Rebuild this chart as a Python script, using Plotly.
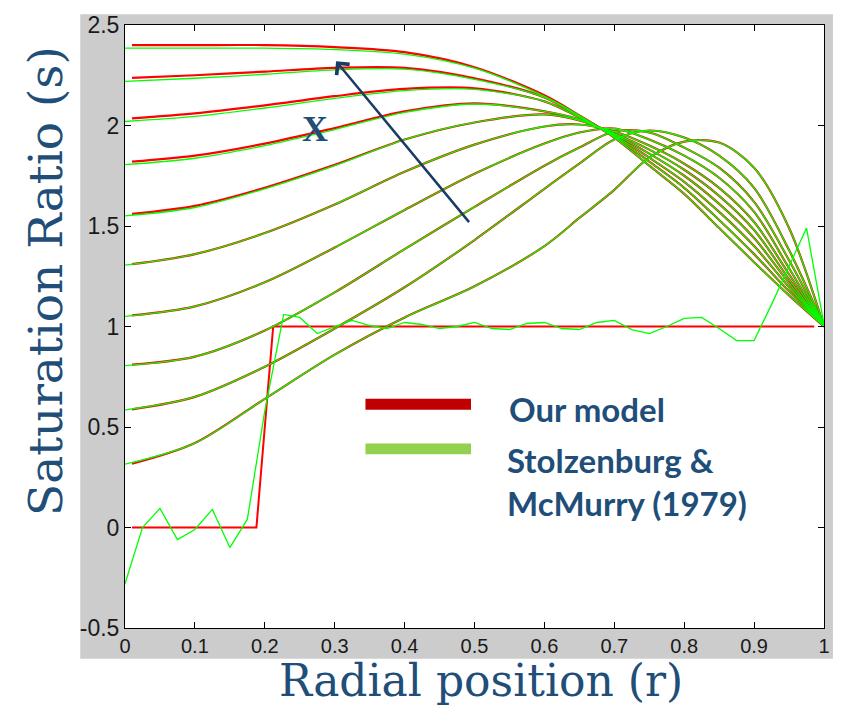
import plotly.graph_objects as go

# ---------------- data ----------------
R_OUR = [0.01, 0.1, 0.2, 0.3, 0.4, 0.5, 0.6, 0.65, 0.7, 0.75, 0.8, 0.85, 0.9, 0.95, 1.0]
R_SM = [0.0, 0.1, 0.2, 0.3, 0.4, 0.5, 0.6, 0.65, 0.7, 0.75, 0.8, 0.85, 0.9, 0.95, 1.0]

OUR_1 = [2.40, 2.40, 2.40, 2.39, 2.365, 2.29, 2.15, 2.05, 1.94, 1.80, 1.66, 1.49, 1.32, 1.155, 1.0]
OUR_2 = [2.237, 2.25, 2.268, 2.287, 2.287, 2.235, 2.14, 2.045, 1.945, 1.82, 1.69, 1.53, 1.36, 1.175, 1.0]
OUR_3 = [2.035, 2.06, 2.10, 2.146, 2.182, 2.185, 2.12, 2.04, 1.95, 1.84, 1.72, 1.57, 1.40, 1.195, 1.0]
OUR_4 = [1.82, 1.85, 1.91, 1.987, 2.07, 2.11, 2.07, 2.03, 1.955, 1.86, 1.75, 1.61, 1.44, 1.215, 1.0]
OUR_5 = [1.56, 1.60, 1.69, 1.804, 1.93, 2.015, 2.055, 2.025, 1.96, 1.88, 1.78, 1.65, 1.48, 1.235, 1.0]
OUR_6 = [1.31, 1.36, 1.465, 1.607, 1.77, 1.905, 1.995, 2.005, 1.97, 1.90, 1.81, 1.69, 1.52, 1.26, 1.0]
OUR_7 = [1.055, 1.10, 1.22, 1.393, 1.58, 1.76, 1.91, 1.965, 1.985, 1.93, 1.85, 1.74, 1.57, 1.29, 1.0]
OUR_8 = [0.81, 0.85, 0.98, 1.17, 1.385, 1.595, 1.80, 1.89, 1.97, 1.965, 1.89, 1.79, 1.62, 1.33, 1.0]
OUR_9 = [0.588, 0.65, 0.80, 0.99, 1.195, 1.43, 1.685, 1.81, 1.93, 1.975, 1.94, 1.85, 1.69, 1.38, 1.0]
OUR_10 = [0.317, 0.42, 0.64, 0.86, 1.045, 1.20, 1.40, 1.54, 1.68, 1.84, 1.92, 1.915, 1.79, 1.49, 1.0]

SM_1 = [2.385, 2.385, 2.385, 2.378, 2.355, 2.285, 2.145, 2.05, 1.94, 1.80, 1.66, 1.49, 1.32, 1.155, 1.0]
SM_2 = [2.22, 2.235, 2.255, 2.277, 2.28, 2.23, 2.14, 2.045, 1.945, 1.82, 1.69, 1.53, 1.36, 1.175, 1.0]
SM_3 = [2.02, 2.045, 2.087, 2.135, 2.174, 2.18, 2.12, 2.04, 1.95, 1.84, 1.72, 1.57, 1.40, 1.195, 1.0]
SM_4 = [1.805, 1.837, 1.90, 1.98, 2.065, 2.107, 2.07, 2.03, 1.955, 1.86, 1.75, 1.61, 1.44, 1.215, 1.0]
SM_5 = [1.55, 1.592, 1.685, 1.80, 1.93, 2.015, 2.055, 2.025, 1.96, 1.88, 1.78, 1.65, 1.48, 1.235, 1.0]
SM_6 = [1.305, 1.36, 1.465, 1.607, 1.77, 1.905, 1.995, 2.005, 1.97, 1.90, 1.81, 1.69, 1.52, 1.26, 1.0]
SM_7 = [1.05, 1.10, 1.22, 1.393, 1.58, 1.76, 1.91, 1.965, 1.985, 1.93, 1.85, 1.74, 1.57, 1.29, 1.0]
SM_8 = [0.805, 0.85, 0.98, 1.17, 1.385, 1.595, 1.80, 1.89, 1.97, 1.965, 1.89, 1.79, 1.62, 1.33, 1.0]
SM_9 = [0.585, 0.65, 0.80, 0.99, 1.195, 1.43, 1.685, 1.81, 1.93, 1.975, 1.94, 1.85, 1.69, 1.38, 1.0]
SM_10 = [0.315, 0.42, 0.64, 0.86, 1.045, 1.20, 1.40, 1.54, 1.68, 1.84, 1.92, 1.915, 1.79, 1.49, 1.0]

# initial (inlet) profile: step
STEP_R = [0.01, 0.188, 0.212, 0.986]
STEP_S = [0.0, 0.0, 1.0, 1.0]

OSC_R = [0.0, 0.025, 0.05, 0.075, 0.1, 0.125, 0.15, 0.175, 0.2, 0.227, 0.25, 0.275,
         0.3, 0.325, 0.35, 0.375, 0.4, 0.425, 0.45, 0.475, 0.5, 0.525, 0.55, 0.575,
         0.6, 0.625, 0.65, 0.675, 0.7, 0.725, 0.75, 0.775, 0.8, 0.825, 0.85, 0.875,
         0.9, 0.925, 0.95, 0.975, 1.0]
OSC_S = [-0.28, 0.0, 0.095, -0.06, -0.01, 0.09, -0.10, 0.04, 0.58, 1.06, 1.045, 0.965,
         1.0, 1.03, 1.005, 0.99, 1.02, 1.01, 0.99, 1.0, 1.02, 0.99, 0.985, 1.015,
         1.02, 0.99, 0.985, 1.02, 1.03, 0.985, 0.965, 1.0, 1.04, 1.045, 0.99, 0.93,
         0.93, 1.11, 1.30, 1.49, 1.01]

X_TICKS = [0, 0.1, 0.2, 0.3, 0.4, 0.5, 0.6, 0.7, 0.8, 0.9, 1]
X_LABELS = ["0", "0.1", "0.2", "0.3", "0.4", "0.5", "0.6", "0.7", "0.8", "0.9", "1"]
Y_TICKS = [-0.5, 0, 0.5, 1, 1.5, 2, 2.5]
Y_LABELS = ["-0.5", "0", "0.5", "1", "1.5", "2", "2.5"]

LEGEND_LABELS = ["Our model", "Stolzenburg &<br>McMurry (1979)"]

OUR = [OUR_1, OUR_2, OUR_3, OUR_4, OUR_5, OUR_6, OUR_7, OUR_8, OUR_9, OUR_10]
SM = [SM_1, SM_2, SM_3, SM_4, SM_5, SM_6, SM_7, SM_8, SM_9, SM_10]

# ---------------- figure ----------------
RED = "#FF0000"
GREEN = "#00FF00"
NAVY = "#1F4E79"

fig = go.Figure()

for ys in OUR:
    fig.add_trace(go.Scatter(x=R_OUR, y=ys, mode="lines",
                             line=dict(color=RED, width=2.2, shape="spline", smoothing=0.9),
                             hoverinfo="skip"))
fig.add_trace(go.Scatter(x=STEP_R, y=STEP_S, mode="lines",
                         line=dict(color=RED, width=2), hoverinfo="skip"))

for ys in SM:
    fig.add_trace(go.Scatter(x=R_SM, y=ys, mode="lines",
                             line=dict(color=GREEN, width=1.3, shape="spline", smoothing=0.9),
                             hoverinfo="skip"))
fig.add_trace(go.Scatter(x=OSC_R, y=OSC_S, mode="lines",
                         line=dict(color=GREEN, width=1.3), hoverinfo="skip"))

shapes = [
    # grey MATLAB figure background
    dict(type="rect", xref="paper", yref="paper", x0=-0.064, x1=1.0128, y0=-0.051, y1=1.018,
         fillcolor="#CCCCCC", line=dict(width=0), layer="below"),
    dict(type="rect", xref="paper", yref="paper", x0=0, x1=1, y0=0, y1=1,
         fillcolor="white", line=dict(width=0), layer="below"),
    # legend swatches
    dict(type="rect", xref="paper", yref="paper", x0=0.344, x1=0.495, y0=0.362, y1=0.380,
         fillcolor="#C00000", line=dict(width=0)),
    dict(type="rect", xref="paper", yref="paper", x0=0.344, x1=0.495, y0=0.288, y1=0.306,
         fillcolor="#92D050", line=dict(width=0)),
]

annotations = [
    dict(xref="paper", yref="paper", x=0.546, y=0.364, xanchor="left", yanchor="middle",
         text="<b>%s</b>" % LEGEND_LABELS[0], showarrow=False,
         font=dict(family="Lato", size=33, color=NAVY)),
    dict(xref="paper", yref="paper", x=0.543, y=0.243, xanchor="left", yanchor="middle",
         text="<b>%s</b>" % LEGEND_LABELS[1], showarrow=False, align="left",
         font=dict(family="Lato", size=33, color=NAVY)),
    # axis titles
    dict(xref="paper", yref="paper", x=0.509, y=-0.087, xanchor="center", yanchor="middle",
         text="Radial position (r)", showarrow=False,
         font=dict(family="DejaVu Serif", size=44, color=NAVY)),
    dict(xref="paper", yref="paper", x=-0.114, y=0.576, xanchor="center", yanchor="middle",
         text="Saturation Ratio (s)", showarrow=False, textangle=-90,
         font=dict(family="DejaVu Serif", size=47, color=NAVY)),
    # x label and arrow
    dict(xref="paper", yref="paper", x=0.272, y=0.827, xanchor="center", yanchor="middle",
         text="<b>X</b>", showarrow=False,
         font=dict(family="Liberation Serif", size=36, color=NAVY)),
    dict(x=0.302, y=2.32, ax=0.494, ay=1.512, xref="x", yref="y", axref="x", ayref="y",
         text="", showarrow=True, arrowhead=4, arrowsize=1.3, arrowwidth=2.5,
         arrowcolor="#1A3C64"),
]

fig.update_layout(
    width=842, height=706,
    margin=dict(l=125, r=14, t=20, b=78),
    paper_bgcolor="white", plot_bgcolor="white",
    showlegend=False,
    shapes=shapes, annotations=annotations,
)
fig.update_xaxes(range=[0, 1], tickvals=X_TICKS, ticktext=X_LABELS,
                 showgrid=False, zeroline=False, showline=True, mirror="ticks",
                 linecolor="black", linewidth=1, ticks="inside", ticklen=6,
                 tickcolor="black", tickfont=dict(family="Liberation Sans", size=20, color="#1a1a1a"))
fig.update_yaxes(range=[-0.5, 2.5], tickvals=Y_TICKS, ticktext=Y_LABELS,
                 showgrid=False, zeroline=False, showline=True, mirror="ticks",
                 linecolor="black", linewidth=1, ticks="inside", ticklen=6,
                 tickcolor="black", tickfont=dict(family="Liberation Sans", size=23, color="#1a1a1a"))

fig.write_html("out.html")
